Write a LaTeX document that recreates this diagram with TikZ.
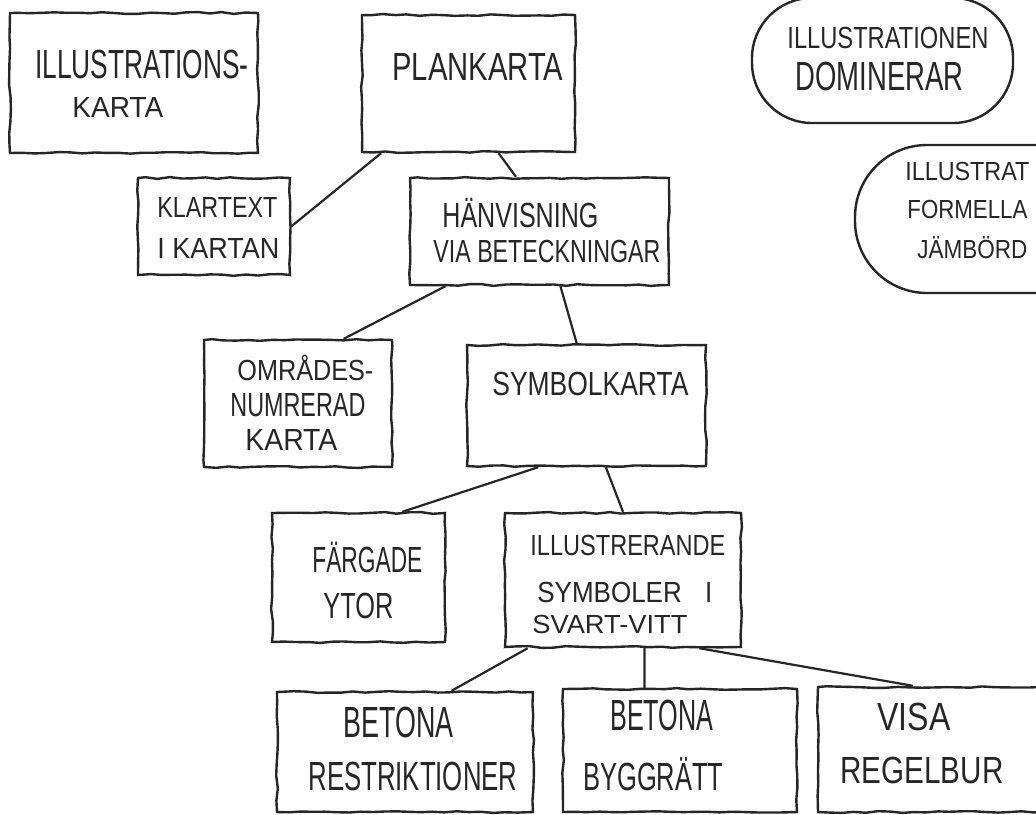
\documentclass[tikz,border=0pt]{standalone}
\usepackage{fontspec}
\setmainfont{Liberation Sans}
\usepackage{graphicx}
\usetikzlibrary{calc,fit,decorations.pathmorphing}
\definecolor{ink}{HTML}{262626}
\newlength\hwL
\newlength\hwH
% #1 width (px), #2 cap height (px), #3 text
\newcommand\hw[3]{%
  \settowidth\hwL{#3}\settoheight\hwH{H}%
  \pgfmathsetmacro\hwsx{#1*0.5/\hwL}%
  \pgfmathsetmacro\hwsy{#2*0.5/\hwH}%
  \scalebox{\hwsx}[\hwsy]{#3}}
\tikzset{
  sketch/.style={decorate, decoration={random steps, segment length=6pt, amplitude=0.45pt}},
  box/.style={draw=ink, line width=1.2pt, inner sep=0pt, sketch},
  blob/.style={draw=ink, line width=1.2pt, inner sep=0pt, rounded corners=30pt},
  conn/.style={draw=ink, line width=1.1pt},
  txt/.style={inner sep=0pt, anchor=base west, text=ink, font=\fontsize{20}{24}\selectfont}
}
\begin{document}
\begin{tikzpicture}[x=0.5pt, y=-0.5pt]
\pgfmathsetseed{7}
\useasboundingbox (0,0) rectangle (1036,814);
\fill[white] (0,0) rectangle (1036,814);
\clip (0,0) rectangle (1036,814);

% boxes
\node[box, fit={(10,13)(258,153)}] (ill) {};
\node[box, fit={(362,15)(575,152)}] (plan) {};
\node[box, fit={(138,178)(290,275)}] (klar) {};
\node[box, fit={(410,178)(669,285)}] (han) {};
\node[blob, fit={(752,-2)(1013,123)}] (dom) {};
\node[blob, rounded corners=36pt, fit={(855,145)(1125,293)}] (form) {};
\node[box, fit={(204,340)(392,467)}] (omr) {};
\node[box, fit={(467,345)(706,466)}] (sym) {};
\node[box, fit={(272,513)(445,642)}] (farg) {};
\node[box, fit={(505,513)(741,647)}] (illr) {};
\node[box, fit={(277,692)(533,812)}] (rest) {};
\node[box, fit={(563,689)(797,812)}] (bygg) {};
\node[box, fit={(818,687)(1090,812)}] (visa) {};

% texts
\node[txt] (tIllA) at (35,78) {\hw{213}{28}{ILLUSTRATIONS-}};
\node[txt] (tIllB) at (72,117) {\hw{91}{20}{KARTA}};
\node[txt] (tPlan) at (392,80) {\hw{171}{27}{PLANKARTA}};
\node[txt] (tKlarA) at (157,217) {\hw{120}{20}{KLARTEXT}};
\node[txt] (tKlarB) at (157,258) {\hw{122}{20}{I KARTAN}};
\node[txt] (tHanA) at (442,227) {\hw{156}{24}{HÄNVISNING}};
\node[txt] (tHanB) at (433,262) {\hw{227}{22}{VIA BETECKNINGAR}};
\node[txt] (tDomA) at (787,48) {\hw{201}{21}{ILLUSTRATIONEN}};
\node[txt] (tDomB) at (795,90) {\hw{168}{28}{DOMINERAR}};
\node[txt] (tFormA) at (905,180) {\hw{124}{18}{ILLUSTRAT}};
\node[txt] (tFormB) at (907,218) {\hw{120}{18}{FORMELLA}};
\node[txt] (tFormC) at (917,258) {\hw{110}{18}{JÄMBÖRD}};
\node[txt] (tOmrA) at (237,380) {\hw{136}{20}{OMRÅDES-}};
\node[txt] (tOmrB) at (230,416) {\hw{135}{23}{NUMRERAD}};
\node[txt] (tOmrC) at (245,450) {\hw{92}{21}{KARTA}};
\node[txt] (tSym) at (492,395) {\hw{196}{23}{SYMBOLKARTA}};
\node[txt] (tFargA) at (312,572) {\hw{110}{25}{FÄRGADE}};
\node[txt] (tFargB) at (323,618) {\hw{70}{25}{YTOR}};
\node[txt] (tIllrA) at (530,555) {\hw{195}{20}{ILLUSTRERANDE}};
\node[txt] (tIllrB) at (537,602) {\hw{175}{20}{SYMBOLER\hspace{0.9em}I}};
\node[txt] (tIllrC) at (532,633) {\hw{155}{18}{SVART-VITT}};
\node[txt] (tRestA) at (343,737) {\hw{110}{30}{BETONA}};
\node[txt] (tRestB) at (308,790) {\hw{209}{28}{RESTRIKTIONER}};
\node[txt] (tByggA) at (610,730) {\hw{103}{30}{BETONA}};
\node[txt] (tByggB) at (583,790) {\hw{140}{27}{BYGGRÄTT}};
\node[txt] (tVisaA) at (877,730) {\hw{73}{27}{VISA}};
\node[txt] (tVisaB) at (840,783) {\hw{163}{26}{REGELBUR}};

% connectors
\draw[conn] ($(plan.south west)!0.094!(plan.south east)$) -- (klar.east);
\draw[conn] ($(plan.south west)!0.64!(plan.south east)$) -- ($(han.north west)!0.41!(han.north east)$);
\draw[conn] ($(han.south west)!0.14!(han.south east)$) -- ($(omr.north west)!0.74!(omr.north east)$);
\draw[conn] ($(han.south west)!0.58!(han.south east)$) -- ($(sym.north west)!0.46!(sym.north east)$);
\draw[conn] ($(sym.south west)!0.30!(sym.south east)$) -- ($(farg.north west)!0.75!(farg.north east)$);
\draw[conn] ($(sym.south west)!0.58!(sym.south east)$) -- ($(illr.north west)!0.50!(illr.north east)$);
\draw[conn] ($(illr.south west)!0.10!(illr.south east)$) -- ($(rest.north west)!0.68!(rest.north east)$);
\draw[conn] ($(illr.south west)!0.59!(illr.south east)$) -- ($(bygg.north west)!0.35!(bygg.north east)$);
\draw[conn] ($(illr.south west)!0.82!(illr.south east)$) -- ($(visa.north west)!0.35!(visa.north east)$);
\end{tikzpicture}
\end{document}
